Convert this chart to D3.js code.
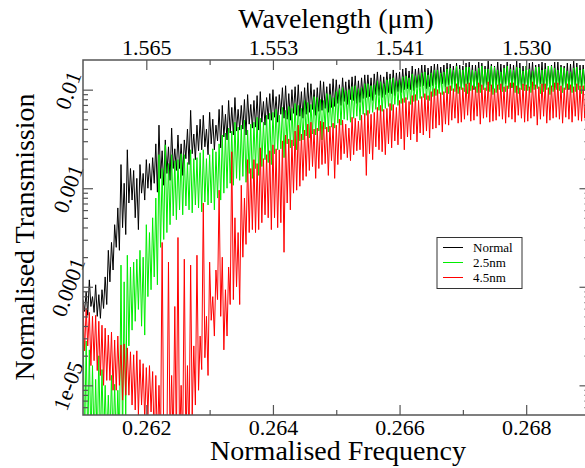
<!DOCTYPE html>
<html>
<head>
<meta charset="utf-8">
<script src="https://cdn.jsdelivr.net/npm/d3@7"></script>
<style>
  body { margin: 0; background: #fff; }
  text { font-family: "Liberation Serif", "Times New Roman", serif; }
</style>
</head>
<body>
<div id="chart"></div>
<script>
// sampling grid of the spectra (normalised frequency)
// each step holds one upper (peak) and one lower (dip) reading
const freqStart = 0.261;
const freqStep = 0.00005;

// log10 of normalised transmission
const normalHi = [
  -4.13,-4.05,-3.93,-4.10,-3.98,-4.08,-4.03,-3.90,-3.63,-3.55,
  -3.37,-3.20,-2.76,-2.95,-2.61,-2.80,-2.82,-2.90,-2.76,-2.85,
  -2.71,-2.75,-2.69,-2.55,-2.36,-2.62,-2.51,-2.58,-2.39,-2.60,
  -2.46,-2.55,-2.51,-2.40,-2.21,-2.45,-2.36,-2.30,-2.26,-2.40,
  -2.23,-2.30,-2.36,-2.20,-2.16,-2.25,-2.11,-2.18,-2.08,-2.20,
  -2.16,-2.10,-2.05,-2.15,-2.11,-2.06,-2.02,-2.12,-2.08,-2.04,
  -2.00,-2.07,-2.05,-1.98,-1.96,-2.04,-2.00,-1.97,-1.95,-2.02,
  -1.98,-1.93,-1.94,-2.00,-1.98,-1.91,-1.92,-1.97,-1.94,-1.89,
  -1.90,-1.95,-1.88,-1.92,-1.90,-1.87,-1.86,-1.91,-1.88,-1.85,
  -1.85,-1.88,-1.84,-1.82,-1.85,-1.87,-1.82,-1.84,-1.80,-1.83,
  -1.82,-1.79,-1.78,-1.81,-1.76,-1.79,-1.78,-1.75,-1.75,-1.78,
  -1.76,-1.74,-1.74,-1.77,-1.75,-1.73,-1.74,-1.76,-1.73,-1.75,
  -1.76,-1.73,-1.72,-1.75,-1.75,-1.72,-1.73,-1.76,-1.71,-1.74,
  -1.76,-1.72,-1.74,-1.75,-1.72,-1.74,-1.75,-1.71,-1.73,-1.76,
  -1.76,-1.73,-1.72,-1.75,-1.74,-1.72,-1.73,-1.76,-1.75,-1.72,
  -1.72,-1.75,-1.76,-1.73,-1.74,-1.71,-1.73,-1.75,-1.75,-1.73,
  -1.74
];
const normalLo = [
  -4.25,-4.29,-4.20,-4.26,-4.30,-4.32,-4.22,-4.18,-3.95,-3.83,
  -3.60,-3.63,-3.40,-3.47,-3.15,-3.12,-3.30,-3.42,-3.05,-3.12,
  -3.00,-3.02,-2.95,-3.04,-2.90,-2.97,-2.85,-2.92,-2.80,-2.82,
  -2.80,-2.87,-2.70,-2.76,-2.65,-2.71,-2.62,-2.61,-2.58,-2.66,
  -2.55,-2.61,-2.52,-2.59,-2.48,-2.51,-2.44,-2.46,-2.42,-2.41,
  -2.40,-2.46,-2.35,-2.39,-2.38,-2.41,-2.33,-2.36,-2.30,-2.31,
  -2.28,-2.33,-2.25,-2.29,-2.30,-2.31,-2.24,-2.26,-2.27,-2.29,
  -2.25,-2.23,-2.20,-2.26,-2.22,-2.21,-2.19,-2.23,-2.18,-2.17,
  -2.14,-2.16,-2.12,-2.15,-2.10,-2.11,-2.14,-2.13,-2.09,-2.08,
  -2.07,-2.11,-2.05,-2.06,-2.08,-2.05,-2.03,-2.04,-2.06,-2.02,
  -2.03,-2.00,-1.99,-2.00,-2.01,-1.98,-1.97,-1.96,-1.99,-1.97,
  -1.96,-1.95,-1.98,-1.94,-1.97,-1.95,-1.94,-1.96,-1.99,-1.98,
  -1.97,-1.94,-1.96,-2.00,-1.95,-1.97,-1.98,-1.95,-1.96,-1.99,
  -1.95,-1.96,-1.99,-1.94,-1.97,-1.98,-1.95,-2.00,-1.97,-1.96,
  -1.98,-1.95,-1.96,-1.97,-1.94,-1.99,-1.96,-1.94,-1.97,-1.98,
  -1.95,-1.96,-1.98,-2.00,-1.96,-1.95,-1.98,-1.97,-1.94,-1.97,
  -1.96
];
const nm25Hi = [
  -4.29,-4.55,-4.64,-4.80,-4.94,-4.70,-4.84,-5.00,-5.10,-4.90,
  -4.99,-5.05,-3.78,-3.95,-3.68,-3.80,-3.75,-3.72,-3.63,-3.70,
  -3.37,-3.45,-3.30,-3.10,-2.66,-2.80,-2.56,-2.75,-2.66,-2.72,
  -2.71,-2.65,-2.66,-2.74,-2.61,-2.70,-2.69,-2.64,-2.61,-2.70,
  -2.66,-2.60,-2.63,-2.55,-2.46,-2.44,-2.39,-2.42,-2.33,-2.38,
  -2.36,-2.31,-2.41,-2.35,-2.33,-2.28,-2.29,-2.33,-2.26,-2.24,
  -2.23,-2.20,-2.26,-2.18,-2.21,-2.17,-2.19,-2.14,-2.16,-2.19,
  -2.11,-2.13,-2.15,-2.07,-2.08,-2.10,-2.11,-2.04,-2.05,-2.08,
  -2.02,-1.99,-1.98,-2.01,-2.00,-1.97,-1.96,-1.99,-1.98,-1.94,
  -1.94,-1.96,-1.95,-1.91,-1.92,-1.94,-1.90,-1.89,-1.88,-1.91,
  -1.90,-1.87,-1.86,-1.88,-1.84,-1.86,-1.85,-1.83,-1.82,-1.85,
  -1.83,-1.80,-1.80,-1.83,-1.82,-1.79,-1.78,-1.80,-1.76,-1.79,
  -1.80,-1.77,-1.77,-1.80,-1.81,-1.78,-1.76,-1.79,-1.79,-1.76,
  -1.77,-1.80,-1.82,-1.78,-1.76,-1.79,-1.80,-1.77,-1.78,-1.81,
  -1.76,-1.79,-1.81,-1.77,-1.77,-1.80,-1.79,-1.76,-1.76,-1.78,
  -1.80,-1.77,-1.78,-1.81,-1.82,-1.78,-1.77,-1.80,-1.79,-1.76,
  -1.77
];
const nm25Lo = [
  -5.6,-5.6,-5.6,-5.6,-5.6,-5.6,-5.6,-5.6,-5.6,-5.6,
  -5.6,-5.6,-5.6,-5.35,-4.60,-4.44,-4.35,-4.23,-4.40,-4.49,
  -4.10,-4.03,-3.90,-3.98,-3.60,-3.52,-3.45,-3.37,-3.28,-3.32,
  -3.22,-3.27,-3.18,-3.22,-3.25,-3.17,-3.20,-3.24,-3.14,-3.17,
  -3.15,-3.22,-3.10,-3.12,-3.05,-3.00,-2.95,-2.97,-2.90,-2.92,
  -2.88,-2.94,-2.85,-2.90,-2.80,-2.87,-2.78,-2.71,-2.74,-2.76,
  -2.65,-2.61,-2.60,-2.69,-2.55,-2.59,-2.57,-2.61,-2.52,-2.51,
  -2.47,-2.49,-2.45,-2.46,-2.42,-2.51,-2.40,-2.43,-2.38,-2.39,
  -2.34,-2.36,-2.30,-2.31,-2.33,-2.29,-2.27,-2.31,-2.25,-2.26,
  -2.24,-2.23,-2.20,-2.21,-2.22,-2.19,-2.17,-2.21,-2.15,-2.16,
  -2.14,-2.13,-2.10,-2.15,-2.12,-2.11,-2.09,-2.08,-2.10,-2.11,
  -2.07,-2.06,-2.04,-2.05,-2.03,-2.04,-2.01,-2.02,-2.04,-2.00,
  -2.02,-2.04,-2.01,-1.99,-2.03,-2.03,-2.00,-2.01,-2.02,-2.05,
  -2.03,-2.00,-2.02,-2.02,-1.99,-1.98,-2.03,-2.04,-2.00,-2.01,
  -2.01,-2.03,-2.00,-1.99,-2.04,-2.02,-2.00,-2.05,-2.02,-2.00,
  -2.01,-2.03,-2.00,-1.99,-2.03,-2.02,-2.00,-2.04,-2.01,-2.02,
  -2.01
];
const nm45Hi = [
  -4.18,-4.22,-4.26,-4.30,-4.29,-4.35,-4.39,-4.42,-4.49,-4.46,
  -4.54,-4.50,-4.59,-4.58,-4.62,-4.66,-4.69,-4.65,-4.74,-4.78,
  -4.82,-4.80,-4.86,-4.90,-5.00,-3.55,-5.30,-3.75,-4.90,-4.20,
  -3.50,-5.00,-3.72,-4.80,-3.78,-4.60,-3.68,-4.50,-3.15,-4.30,
  -3.75,-4.10,-3.83,-3.02,-3.70,-4.03,-3.80,-2.63,-3.30,-3.45,
  -2.97,-3.10,-2.71,-2.80,-2.71,-2.75,-2.59,-2.70,-2.66,-2.62,
  -2.56,-2.60,-2.61,-2.52,-2.46,-2.50,-2.51,-2.42,-2.36,-2.45,
  -2.41,-2.35,-2.33,-2.40,-2.39,-2.32,-2.33,-2.38,-2.37,-2.34,
  -2.36,-2.30,-2.31,-2.35,-2.39,-2.28,-2.29,-2.32,-2.26,-2.24,
  -2.21,-2.25,-2.23,-2.18,-2.16,-2.20,-2.19,-2.14,-2.15,-2.18,
  -2.11,-2.09,-2.08,-2.12,-2.06,-2.05,-2.11,-2.07,-2.04,-2.06,
  -2.02,-1.99,-2.00,-2.03,-2.02,-1.97,-1.96,-1.99,-1.94,-1.97,
  -1.98,-1.94,-1.93,-1.96,-1.97,-1.93,-1.95,-1.98,-1.92,-1.95,
  -1.99,-1.95,-1.94,-1.97,-1.96,-1.93,-1.93,-1.96,-1.98,-1.94,
  -1.95,-1.97,-1.92,-1.95,-1.97,-1.94,-1.94,-1.98,-1.96,-1.93,
  -1.93,-1.96,-1.98,-1.94,-1.95,-1.97,-1.94,-1.96,-1.96,-1.93,
  -1.95
];
const nm45Lo = [
  -4.65,-4.60,-4.80,-4.75,-4.85,-4.90,-5.00,-4.95,-4.95,-5.05,
  -5.05,-5.00,-5.15,-5.10,-5.10,-5.20,-5.25,-5.30,-5.20,-5.35,
  -5.30,-5.27,-5.6,-5.6,-5.6,-5.6,-5.6,-5.6,-5.6,-5.6,
  -5.6,-5.6,-5.6,-5.6,-5.30,-5.20,-5.05,-4.84,-4.72,-4.90,
  -4.34,-4.50,-4.13,-4.30,-4.64,-4.50,-4.18,-4.13,-4.00,-4.18,
  -3.70,-3.57,-3.45,-3.42,-3.45,-3.42,-3.35,-3.27,-3.30,-3.42,
  -3.30,-3.40,-3.35,-3.65,-3.15,-3.22,-3.05,-3.02,-2.98,-2.92,
  -2.88,-2.82,-2.78,-2.90,-2.80,-2.76,-2.75,-2.87,-2.72,-2.90,
  -2.76,-2.71,-2.65,-2.69,-2.72,-2.66,-2.62,-2.61,-2.68,-2.87,
  -2.65,-2.71,-2.58,-2.61,-2.63,-2.66,-2.55,-2.59,-2.52,-2.56,
  -2.50,-2.61,-2.48,-2.51,-2.45,-2.53,-2.44,-2.46,-2.42,-2.49,
  -2.40,-2.39,-2.36,-2.43,-2.35,-2.36,-2.31,-2.29,-2.34,-2.33,
  -2.30,-2.26,-2.32,-2.31,-2.27,-2.35,-2.29,-2.28,-2.33,-2.32,
  -2.31,-2.27,-2.30,-2.34,-2.28,-2.30,-2.33,-2.26,-2.29,-2.33,
  -2.32,-2.29,-2.27,-2.36,-2.30,-2.27,-2.34,-2.31,-2.29,-2.28,
  -2.30,-2.34,-2.28,-2.30,-2.33,-2.27,-2.31,-2.32,-2.29,-2.31,
  -2.30
];

const seriesNames = ["Normal", "2.5nm", "4.5nm"];
const seriesColors = ["#000000", "#00ee00", "#ff0000"];

const freqTicks = [0.262, 0.264, 0.266, 0.268];
const freqMinor = [0.263, 0.265, 0.267];
const waveLabels = ["1.565", "1.553", "1.541", "1.530"];
const transTicks = [1e-2, 1e-3, 1e-4, 1e-5];
const transLabels = ["0.01", "0.001", "0.0001", "1e-05"];

const width = 585;
const height = 468;
const plot = {left: 83, right: 589.5, top: 60, bottom: 415};

const svg = d3.select('#chart')
  .append('svg')
  .attr('width', width)
  .attr('height', height)
  .style('display', 'block');

const x = d3.scaleLinear()
  .domain([0.261, 0.269])
  .range([plot.left, plot.right]);

const y = d3.scaleLog()
  .domain([5e-6, 0.02])
  .range([plot.bottom, plot.top]);

svg.append('defs').append('clipPath')
  .attr('id', 'plot-clip')
  .append('rect')
  .attr('x', plot.left)
  .attr('y', plot.top)
  .attr('width', plot.right - plot.left)
  .attr('height', plot.bottom - plot.top);

// peak then dip at every grid step
const toPoints = (hi, lo) => hi.flatMap((h, i) => [
  [freqStart + i * freqStep, h],
  [freqStart + (i + 0.5) * freqStep, lo[i]]
]);

const series = [
  toPoints(normalHi, normalLo),
  toPoints(nm25Hi, nm25Lo),
  toPoints(nm45Hi, nm45Lo)
];

const line = d3.line()
  .x(d => x(d[0]))
  .y(d => y(Math.pow(10, d[1])));

svg.append('g')
  .attr('clip-path', 'url(#plot-clip)')
  .selectAll('path')
  .data(series)
  .join('path')
  .attr('d', d => line(d))
  .attr('fill', 'none')
  .attr('stroke', (d, i) => seriesColors[i])
  .attr('stroke-width', 1);

// minor log ticks 2..9 per decade
const yMinor = [];
[1e-6, 1e-5, 1e-4, 1e-3, 1e-2].forEach(dec => {
  for (let m = 2; m <= 9; m++) {
    const v = dec * m;
    if (v > 5e-6 && v < 0.02) yMinor.push(v);
  }
});

const tickColor = '#555';
const styleAxis = g => {
  g.select('.domain').remove();
  g.selectAll('line').attr('stroke', tickColor).attr('stroke-width', 1.2);
};
const styleText = g => g.selectAll('text')
  .attr('font-size', 22)
  .attr('fill', '#000')
  .attr('font-family', '"Liberation Serif", "Times New Roman", serif');

svg.append('g')
  .attr('transform', `translate(0,${plot.bottom})`)
  .call(d3.axisBottom(x).tickValues(freqTicks).tickSizeInner(-10).tickSizeOuter(0)
    .tickPadding(4).tickFormat(d3.format('.3f')))
  .call(styleAxis)
  .call(styleText);

svg.append('g')
  .attr('transform', `translate(0,${plot.bottom})`)
  .call(d3.axisBottom(x).tickValues(freqMinor).tickSize(-5).tickFormat(''))
  .call(styleAxis);

svg.append('g')
  .attr('transform', `translate(0,${plot.top})`)
  .call(d3.axisTop(x).tickValues(freqTicks).tickSizeInner(-10).tickSizeOuter(0)
    .tickPadding(5).tickFormat((d, i) => waveLabels[i]))
  .call(styleAxis)
  .call(styleText);

svg.append('g')
  .attr('transform', `translate(0,${plot.top})`)
  .call(d3.axisTop(x).tickValues(freqMinor).tickSize(-5).tickFormat(''))
  .call(styleAxis);

svg.append('g')
  .attr('transform', `translate(${plot.left},0)`)
  .call(d3.axisLeft(y).tickValues(transTicks).tickSizeInner(-10).tickSizeOuter(0)
    .tickFormat((d, i) => transLabels[i]))
  .call(styleAxis)
  .call(styleText)
  .call(g => g.selectAll('text')
    .attr('x', null).attr('dy', '0.35em')
    .attr('text-anchor', 'middle')
    .attr('transform', 'translate(-15,0) rotate(-70)'));

svg.append('g')
  .attr('transform', `translate(${plot.left},0)`)
  .call(d3.axisLeft(y).tickValues(yMinor).tickSize(-5).tickFormat(''))
  .call(styleAxis);

svg.append('g')
  .attr('transform', `translate(${plot.right},0)`)
  .call(d3.axisRight(y).tickValues(transTicks).tickSizeInner(-10).tickSizeOuter(0).tickFormat(''))
  .call(styleAxis);

svg.append('g')
  .attr('transform', `translate(${plot.right},0)`)
  .call(d3.axisRight(y).tickValues(yMinor).tickSize(-5).tickFormat(''))
  .call(styleAxis);

// frame
svg.append('rect')
  .attr('x', plot.left)
  .attr('y', plot.top)
  .attr('width', plot.right - plot.left)
  .attr('height', plot.bottom - plot.top)
  .attr('fill', 'none')
  .attr('stroke', tickColor)
  .attr('stroke-width', 1.5);

// titles
svg.append('text')
  .attr('x', 336).attr('y', 28)
  .attr('text-anchor', 'middle')
  .attr('font-size', 28)
  .text('Wavelength (μm)');

svg.append('text')
  .attr('x', 338).attr('y', 460)
  .attr('text-anchor', 'middle')
  .attr('font-size', 28)
  .text('Normalised Frequency');

svg.append('text')
  .attr('transform', 'translate(34,237) rotate(-90)')
  .attr('text-anchor', 'middle')
  .attr('font-size', 28)
  .text('Normalised Transmission');

// legend
const legend = svg.append('g');
legend.append('rect')
  .attr('x', 437).attr('y', 237.5)
  .attr('width', 85).attr('height', 51)
  .attr('fill', '#fff')
  .attr('stroke', '#333')
  .attr('stroke-width', 1);

const item = legend.selectAll('g.item')
  .data(seriesNames)
  .join('g')
  .attr('class', 'item')
  .attr('transform', (d, i) => `translate(0,${247.5 + i * 15})`);

item.append('line')
  .attr('x1', 443).attr('x2', 463)
  .attr('stroke', (d, i) => seriesColors[i])
  .attr('stroke-width', 1);

item.append('text')
  .attr('x', 473).attr('y', 4.5)
  .attr('font-size', 13)
  .text(d => d);
</script>
</body>
</html>
